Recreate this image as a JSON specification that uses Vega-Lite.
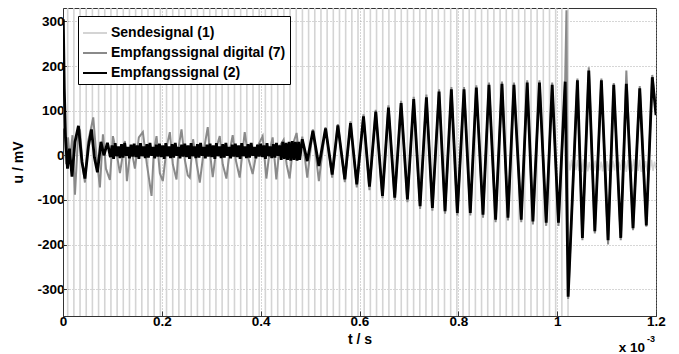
{
 "$schema": "https://vega.github.io/schema/vega-lite/v6.json",
 "width": 593, "height": 308,
 "autosize": {"type": "none"},
 "padding": {"left": 63, "top": 8, "right": 23, "bottom": 38},
 "background": "white",
 "config": {
  "font": "Liberation Sans",
  "view": {"stroke": "#333", "strokeWidth": 1},
  "axis": {"labelFont": "Liberation Sans", "labelFontWeight": "bold", "labelFontSize": 13.5, "labelColor": "#000",
   "titleFont": "Liberation Sans", "titleFontWeight": "bold", "titleFontSize": 14, "titleColor": "#000",
   "domainColor": "#333", "tickColor": "#333", "tickSize": -5, "grid": true, "gridDash": [1, 2], "gridColor": "#999", "gridOpacity": 0.8}
 },
 "datasets": {
  "send": [{"t":0.0095},{"t":0.022},{"t":0.0345},{"t":0.047},{"t":0.0595},{"t":0.072},{"t":0.0845},{"t":0.097},{"t":0.1095},{"t":0.122},{"t":0.1345},{"t":0.147},{"t":0.1595},{"t":0.172},{"t":0.1845},{"t":0.197},{"t":0.2095},{"t":0.222},{"t":0.2345},{"t":0.247},{"t":0.2595},{"t":0.272},{"t":0.2845},{"t":0.297},{"t":0.3095},{"t":0.322},{"t":0.3345},{"t":0.347},{"t":0.3595},{"t":0.372},{"t":0.3845},{"t":0.397},{"t":0.4095},{"t":0.422},{"t":0.4345},{"t":0.447},{"t":0.4595},{"t":0.472},{"t":0.4845},{"t":0.497},{"t":0.5095},{"t":0.522},{"t":0.5345},{"t":0.547},{"t":0.5595},{"t":0.572},{"t":0.5845},{"t":0.597},{"t":0.6095},{"t":0.622},{"t":0.6345},{"t":0.647},{"t":0.6595},{"t":0.672},{"t":0.6845},{"t":0.697},{"t":0.7095},{"t":0.722},{"t":0.7345},{"t":0.747},{"t":0.7595},{"t":0.772},{"t":0.7845},{"t":0.797},{"t":0.8095},{"t":0.822},{"t":0.8345},{"t":0.847},{"t":0.8595},{"t":0.872},{"t":0.8845},{"t":0.897},{"t":0.9095},{"t":0.922},{"t":0.9345},{"t":0.947},{"t":0.9595},{"t":0.972},{"t":0.9845},{"t":0.997},{"t":1.0095},{"t":1.022}],
  "sendTail": [{"t":1.022,"u":-20},{"t":1.023,"u":-12},{"t":1.026,"u":-34},{"t":1.029,"u":-10},{"t":1.032,"u":-36},{"t":1.035,"u":-14},{"t":1.038,"u":-33},{"t":1.041,"u":-11},{"t":1.044,"u":-35},{"t":1.047,"u":-13},{"t":1.05,"u":-37},{"t":1.053,"u":-9},{"t":1.056,"u":-34},{"t":1.059,"u":-12},{"t":1.062,"u":-36},{"t":1.065,"u":-15},{"t":1.068,"u":-33},{"t":1.071,"u":-10},{"t":1.074,"u":-35},{"t":1.077,"u":-12},{"t":1.08,"u":-38},{"t":1.083,"u":-11},{"t":1.086,"u":-34},{"t":1.089,"u":-14},{"t":1.092,"u":-36},{"t":1.095,"u":-10},{"t":1.098,"u":-33},{"t":1.101,"u":-13},{"t":1.104,"u":-35},{"t":1.107,"u":-9},{"t":1.11,"u":-37},{"t":1.113,"u":-12},{"t":1.116,"u":-34},{"t":1.119,"u":-11},{"t":1.122,"u":-36},{"t":1.125,"u":-14},{"t":1.128,"u":-33},{"t":1.131,"u":-10},{"t":1.134,"u":-35},{"t":1.137,"u":-13},{"t":1.14,"u":-37},{"t":1.143,"u":-11},{"t":1.146,"u":-34},{"t":1.149,"u":-12},{"t":1.152,"u":-36},{"t":1.155,"u":-9},{"t":1.158,"u":-33},{"t":1.161,"u":-14},{"t":1.164,"u":-35},{"t":1.167,"u":-10},{"t":1.17,"u":-37},{"t":1.173,"u":-12},{"t":1.176,"u":-34},{"t":1.179,"u":-13},{"t":1.182,"u":-36},{"t":1.185,"u":-11},{"t":1.188,"u":-33},{"t":1.191,"u":-10},{"t":1.194,"u":-35},{"t":1.197,"u":-14},{"t":1.2,"u":-30}],
  "digital": [{"t":0.0002,"u":60},{"t":0.0008,"u":150},{"t":0.003,"u":90},{"t":0.0061,"u":-20},{"t":0.0101,"u":40},{"t":0.0141,"u":-10},{"t":0.0192,"u":45},{"t":0.0242,"u":-88},{"t":0.0303,"u":40},{"t":0.0343,"u":58},{"t":0.0394,"u":-20},{"t":0.0444,"u":-61},{"t":0.0505,"u":30},{"t":0.0566,"u":60},{"t":0.0612,"u":85},{"t":0.0667,"u":10},{"t":0.0747,"u":-72},{"t":0.0808,"u":47},{"t":0.0869,"u":-30},{"t":0.0949,"u":-55},{"t":0.101,"u":43},{"t":0.1091,"u":0},{"t":0.1152,"u":-40},{"t":0.1253,"u":32},{"t":0.1293,"u":-58},{"t":0.1374,"u":20},{"t":0.1455,"u":-30},{"t":0.1535,"u":40},{"t":0.1616,"u":52},{"t":0.1697,"u":-20},{"t":0.1792,"u":-91},{"t":0.1838,"u":10},{"t":0.1893,"u":43},{"t":0.196,"u":-40},{"t":0.202,"u":-58},{"t":0.2101,"u":20},{"t":0.2162,"u":52},{"t":0.2222,"u":-20},{"t":0.2297,"u":-54},{"t":0.2343,"u":20},{"t":0.2398,"u":58},{"t":0.2465,"u":-10},{"t":0.2525,"u":-45},{"t":0.2566,"u":-50},{"t":0.2632,"u":36},{"t":0.2707,"u":-20},{"t":0.2768,"u":-61},{"t":0.2848,"u":10},{"t":0.2929,"u":63},{"t":0.297,"u":10},{"t":0.303,"u":-49},{"t":0.3111,"u":20},{"t":0.3172,"u":43},{"t":0.3232,"u":-20},{"t":0.3307,"u":-52},{"t":0.3374,"u":10},{"t":0.3434,"u":45},{"t":0.3495,"u":-10},{"t":0.3576,"u":-50},{"t":0.3677,"u":52},{"t":0.3758,"u":-10},{"t":0.3838,"u":-42},{"t":0.3939,"u":20},{"t":0.404,"u":43},{"t":0.4115,"u":-52},{"t":0.4182,"u":10},{"t":0.4242,"u":40},{"t":0.4317,"u":-54},{"t":0.4384,"u":20},{"t":0.4465,"u":35},{"t":0.4525,"u":-20},{"t":0.4586,"u":-52},{"t":0.4667,"u":30},{"t":0.4727,"u":50},{"t":0.4788,"u":-10},{"t":0.4842,"u":42},{"t":0.4943,"u":-50},{"t":0.5057,"u":58},{"t":0.5178,"u":-58},{"t":0.5313,"u":63},{"t":0.5448,"u":-50},{"t":0.5562,"u":70},{"t":0.5703,"u":-60},{"t":0.5818,"u":76},{"t":0.5945,"u":-72},{"t":0.6081,"u":92},{"t":0.6202,"u":-78},{"t":0.6329,"u":102},{"t":0.6465,"u":-96},{"t":0.6586,"u":112},{"t":0.6713,"u":-100},{"t":0.6842,"u":122},{"t":0.697,"u":-105},{"t":0.7097,"u":131},{"t":0.7226,"u":-120},{"t":0.7354,"u":136},{"t":0.7475,"u":-124},{"t":0.761,"u":148},{"t":0.7731,"u":-131},{"t":0.7859,"u":153},{"t":0.798,"u":-135},{"t":0.8115,"u":153},{"t":0.8242,"u":-135},{"t":0.8364,"u":157},{"t":0.8499,"u":-140},{"t":0.862,"u":163},{"t":0.8754,"u":-150},{"t":0.8883,"u":165},{"t":0.9004,"u":-146},{"t":0.9125,"u":163},{"t":0.9273,"u":-150},{"t":0.9394,"u":168},{"t":0.9509,"u":-155},{"t":0.9642,"u":168},{"t":0.9778,"u":-158},{"t":0.9899,"u":163},{"t":1.0026,"u":-158},{"t":1.0162,"u":170},{"t":1.0188,"u":325},{"t":1.0222,"u":-322},{"t":1.041,"u":172},{"t":1.0511,"u":-190},{"t":1.064,"u":197},{"t":1.0762,"u":-175},{"t":1.0895,"u":172},{"t":1.103,"u":-200},{"t":1.1145,"u":162},{"t":1.1287,"u":-190},{"t":1.14,"u":190},{"t":1.1535,"u":-168},{"t":1.1671,"u":155},{"t":1.1804,"u":-160},{"t":1.1925,"u":180},{"t":1.2,"u":95}],
  "recv": [{"t":0,"u":250},{"t":0.0006,"u":305},{"t":0.0026,"u":150},{"t":0.0051,"u":40},{"t":0.0091,"u":-30},{"t":0.0131,"u":15},{"t":0.0182,"u":-48},{"t":0.0242,"u":30},{"t":0.0313,"u":66},{"t":0.0384,"u":-15},{"t":0.0444,"u":-52},{"t":0.0515,"u":20},{"t":0.0576,"u":58},{"t":0.0636,"u":-5},{"t":0.0697,"u":-38},{"t":0.0768,"u":30},{"t":0.0828,"u":0},{"t":0.0899,"u":28},
   {"t":0.096,"u":-4},{"t":0.0992,"u":22},{"t":0.1024,"u":-8},{"t":0.1056,"u":27},{"t":0.1088,"u":-2},{"t":0.112,"u":20},{"t":0.1152,"u":-6},{"t":0.1184,"u":25},{"t":0.1216,"u":-5},{"t":0.1248,"u":28},{"t":0.128,"u":-1},{"t":0.1312,"u":19},{"t":0.1344,"u":-7},{"t":0.1376,"u":24},{"t":0.1408,"u":-3},{"t":0.144,"u":26},
   {"t":0.1472,"u":-4},{"t":0.1504,"u":22},{"t":0.1536,"u":-8},{"t":0.1568,"u":27},{"t":0.16,"u":-2},{"t":0.1632,"u":20},{"t":0.1664,"u":-6},{"t":0.1696,"u":25},{"t":0.1728,"u":-5},{"t":0.176,"u":28},{"t":0.1792,"u":-1},{"t":0.1824,"u":19},{"t":0.1856,"u":-7},{"t":0.1888,"u":24},{"t":0.192,"u":-3},{"t":0.1952,"u":26},
   {"t":0.1984,"u":-4},{"t":0.2016,"u":22},{"t":0.2048,"u":-8},{"t":0.208,"u":27},{"t":0.2112,"u":-2},{"t":0.2144,"u":20},{"t":0.2176,"u":-6},{"t":0.2208,"u":25},{"t":0.224,"u":-5},{"t":0.2272,"u":28},{"t":0.2304,"u":-1},{"t":0.2336,"u":19},{"t":0.2368,"u":-7},{"t":0.24,"u":24},{"t":0.2432,"u":-3},{"t":0.2464,"u":26},
   {"t":0.2496,"u":-4},{"t":0.2528,"u":22},{"t":0.256,"u":-8},{"t":0.2592,"u":27},{"t":0.2624,"u":-2},{"t":0.2656,"u":20},{"t":0.2688,"u":-6},{"t":0.272,"u":25},{"t":0.2752,"u":-5},{"t":0.2784,"u":28},{"t":0.2816,"u":-1},{"t":0.2848,"u":19},{"t":0.288,"u":-7},{"t":0.2912,"u":24},{"t":0.2944,"u":-3},{"t":0.2976,"u":26},
   {"t":0.3008,"u":-4},{"t":0.304,"u":22},{"t":0.3072,"u":-8},{"t":0.3104,"u":27},{"t":0.3136,"u":-2},{"t":0.3168,"u":20},{"t":0.32,"u":-6},{"t":0.3232,"u":25},{"t":0.3264,"u":-5},{"t":0.3296,"u":28},{"t":0.3328,"u":-1},{"t":0.336,"u":19},{"t":0.3392,"u":-7},{"t":0.3424,"u":24},{"t":0.3456,"u":-3},{"t":0.3488,"u":26},
   {"t":0.352,"u":-4},{"t":0.3552,"u":22},{"t":0.3584,"u":-8},{"t":0.3616,"u":27},{"t":0.3648,"u":-2},{"t":0.368,"u":20},{"t":0.3712,"u":-6},{"t":0.3744,"u":25},{"t":0.3776,"u":-5},{"t":0.3808,"u":28},{"t":0.384,"u":-1},{"t":0.3872,"u":19},{"t":0.3904,"u":-7},{"t":0.3936,"u":24},{"t":0.3968,"u":-3},{"t":0.4,"u":26},
   {"t":0.4032,"u":-4},{"t":0.4064,"u":22},{"t":0.4096,"u":-8},{"t":0.4128,"u":27},{"t":0.416,"u":-2},{"t":0.4192,"u":20},{"t":0.4224,"u":-6},{"t":0.4256,"u":25},{"t":0.4288,"u":-5},{"t":0.432,"u":28},{"t":0.4352,"u":-1},{"t":0.4384,"u":22},{"t":0.4416,"u":-10},{"t":0.4448,"u":30},{"t":0.448,"u":-8},{"t":0.4512,"u":28},
   {"t":0.4544,"u":-10},{"t":0.4576,"u":30},{"t":0.4608,"u":-12},{"t":0.464,"u":32},{"t":0.4672,"u":-10},{"t":0.4704,"u":30},{"t":0.4736,"u":-12},{"t":0.4768,"u":30},{"t":0.4789,"u":-10},
   {"t":0.4842,"u":36},{"t":0.4943,"u":-13},{"t":0.5057,"u":55},{"t":0.5178,"u":-24},{"t":0.5313,"u":60},{"t":0.5448,"u":-43},{"t":0.5562,"u":67},{"t":0.5703,"u":-54},{"t":0.5818,"u":72},{"t":0.5945,"u":-65},{"t":0.6081,"u":87},{"t":0.6202,"u":-70},{"t":0.6329,"u":98},{"t":0.6465,"u":-91},{"t":0.6586,"u":107},{"t":0.6713,"u":-95},{"t":0.6842,"u":117},{"t":0.697,"u":-99},{"t":0.7097,"u":126},{"t":0.7226,"u":-114},{"t":0.7354,"u":130},{"t":0.7475,"u":-118},{"t":0.761,"u":143},{"t":0.7731,"u":-125},{"t":0.7859,"u":148},{"t":0.798,"u":-129},{"t":0.8115,"u":148},{"t":0.8242,"u":-129},{"t":0.8364,"u":152},{"t":0.8499,"u":-133},{"t":0.862,"u":158},{"t":0.8754,"u":-144},{"t":0.8883,"u":160},{"t":0.9004,"u":-140},{"t":0.9125,"u":158},{"t":0.9273,"u":-144},{"t":0.9394,"u":163},{"t":0.9509,"u":-148},{"t":0.9642,"u":163},{"t":0.9778,"u":-151},{"t":0.9899,"u":158},{"t":1.0026,"u":-151},{"t":1.0162,"u":165},{"t":1.0222,"u":-317},{"t":1.041,"u":168},{"t":1.0511,"u":-185},{"t":1.064,"u":190},{"t":1.0762,"u":-170},{"t":1.0895,"u":168},{"t":1.103,"u":-190},{"t":1.1145,"u":158},{"t":1.1287,"u":-185},{"t":1.14,"u":160},{"t":1.1535,"u":-163},{"t":1.1671,"u":150},{"t":1.1804,"u":-157},{"t":1.1925,"u":175},{"t":1.2,"u":90}]
 },
 "layer": [
  {"data": {"name": "send"}, "mark": {"type": "rule", "strokeWidth": 1.6},
   "encoding": {
    "x": {"field": "t", "type": "quantitative", "title": "t / s", "scale": {"domain": [0, 1.2], "nice": false},
      "axis": {"values": [0, 0.2, 0.4, 0.6, 0.8, 1, 1.2], "format": "~g", "labelFlush": false, "labelPadding": 3, "titlePadding": 5}},
    "color": {"datum": "Sendesignal (1)", "type": "nominal",
      "scale": {"domain": ["Sendesignal (1)", "Empfangssignal digital (7)", "Empfangssignal (2)"], "range": ["#d4d4d4", "#8a8a8a", "#000000"]},
      "legend": {"title": null, "orient": "none", "legendX": 15, "legendY": 8, "symbolType": "stroke", "symbolSize": 576, "symbolStrokeWidth": 2,
        "labelFont": "Liberation Sans", "labelFontWeight": "bold", "labelFontSize": 14, "labelColor": "#000", "labelOffset": 3, "labelLimit": 0,
        "rowPadding": -4, "padding": 4, "strokeColor": "#000", "fillColor": "#fff", "cornerRadius": 0}}
   }},
  {"data": {"name": "sendTail"}, "mark": {"type": "line", "strokeWidth": 1.5, "clip": true},
   "encoding": {
    "x": {"field": "t", "type": "quantitative", "title": "t / s"},
    "y": {"field": "u", "type": "quantitative", "title": "u / mV"},
    "color": {"datum": "Sendesignal (1)", "type": "nominal"}
   }},
  {"data": {"name": "digital"}, "mark": {"type": "line", "strokeWidth": 2, "clip": true},
   "encoding": {
    "x": {"field": "t", "type": "quantitative", "title": "t / s"},
    "y": {"field": "u", "type": "quantitative", "title": "u / mV", "scale": {"domain": [-360, 330], "nice": false},
      "axis": {"values": [-300, -200, -100, 0, 100, 200, 300], "labelExpr": "datum.value < 0 ? '-' + abs(datum.value) : '' + datum.value", "labelPadding": 4, "titlePadding": 11}},
    "color": {"datum": "Empfangssignal digital (7)", "type": "nominal"}
   }},
  {"data": {"name": "recv"}, "mark": {"type": "line", "strokeWidth": 2.8, "clip": true},
   "encoding": {
    "x": {"field": "t", "type": "quantitative", "title": "t / s"},
    "y": {"field": "u", "type": "quantitative", "title": "u / mV"},
    "color": {"datum": "Empfangssignal (2)", "type": "nominal"}
   }},
  {"data": {"values": [{"lab": "x 10"}]},
   "mark": {"type": "text", "align": "right", "baseline": "middle", "dx": -11, "dy": 32, "font": "Liberation Sans", "fontWeight": "bold", "fontSize": 13.5, "color": "#000"},
   "encoding": {"x": {"datum": 1.2, "type": "quantitative"}, "y": {"datum": -360, "type": "quantitative"}, "text": {"field": "lab"}}},
  {"data": {"values": [{"lab": "-3"}]},
   "mark": {"type": "text", "align": "left", "baseline": "middle", "dx": -9, "dy": 23, "font": "Liberation Sans", "fontWeight": "bold", "fontSize": 9, "color": "#000"},
   "encoding": {"x": {"datum": 1.2, "type": "quantitative"}, "y": {"datum": -360, "type": "quantitative"}, "text": {"field": "lab"}}}
 ]
}
